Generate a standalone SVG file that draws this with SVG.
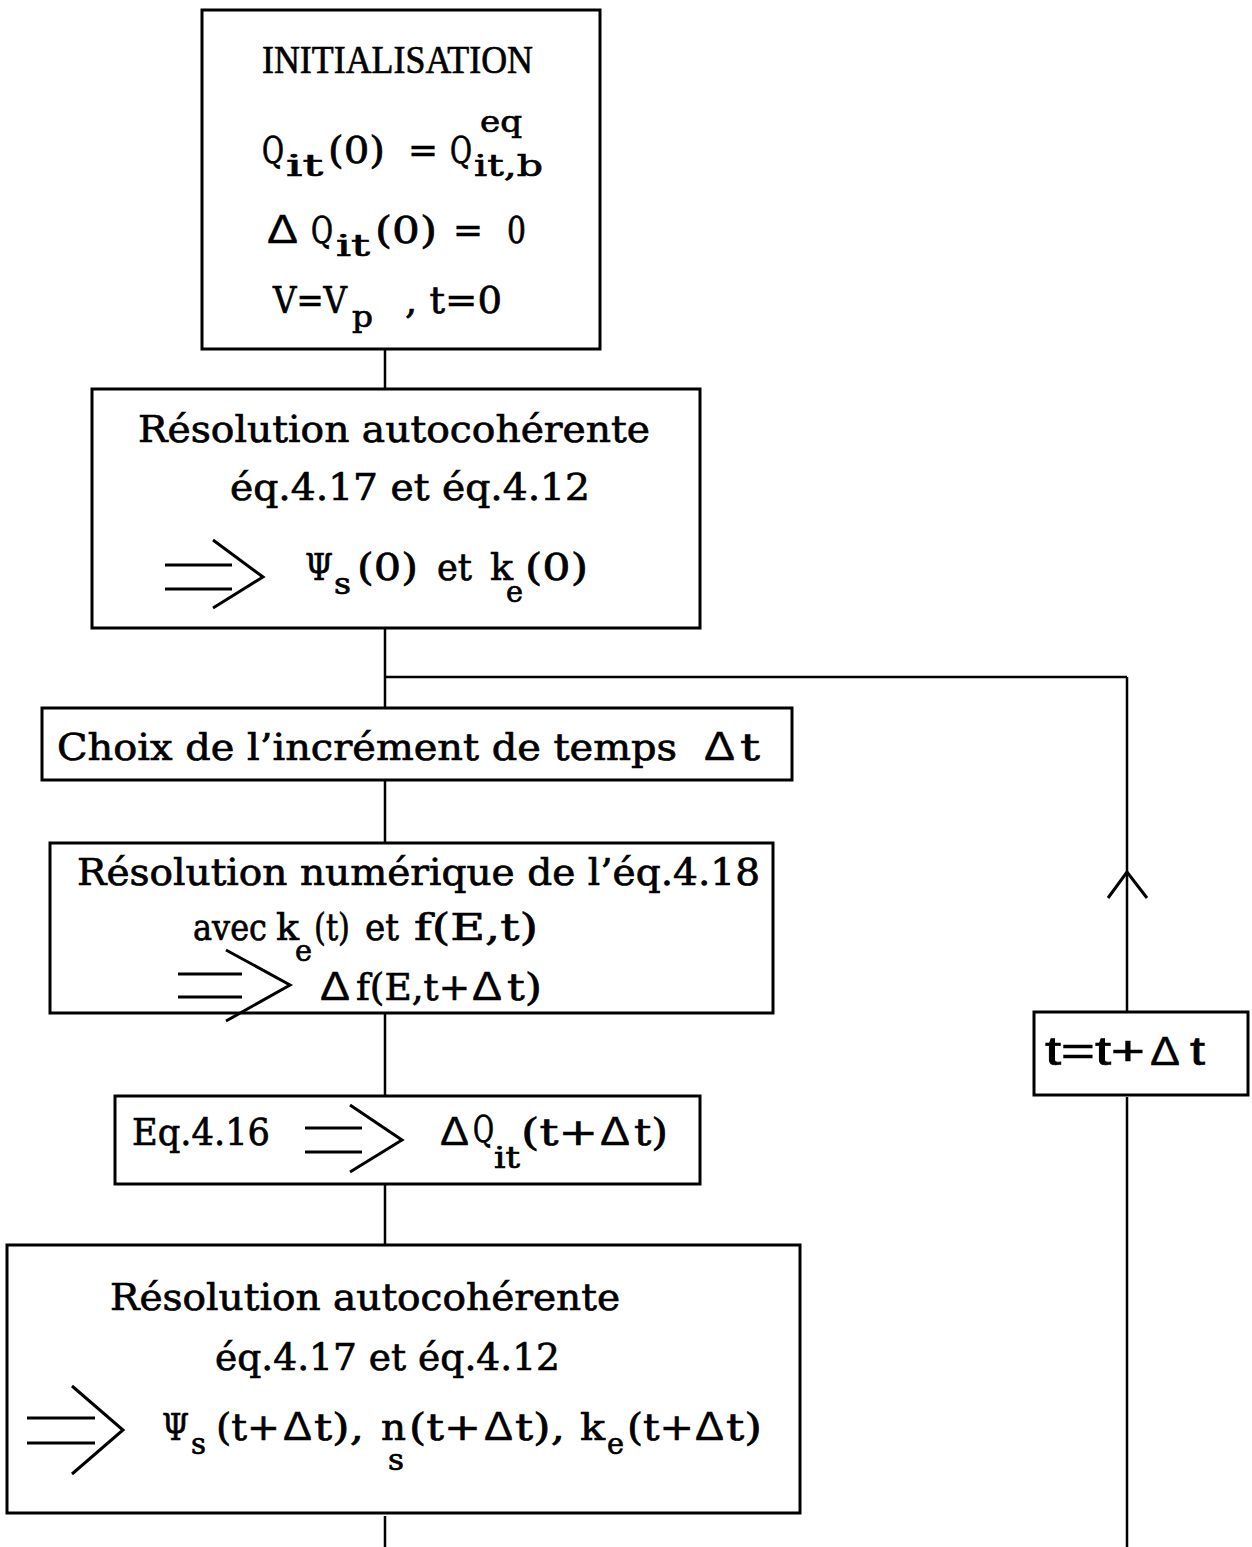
<svg xmlns="http://www.w3.org/2000/svg" width="1252" height="1547" viewBox="0 0 1252 1547">
<style>
.box{fill:#fff;stroke:#000;stroke-width:3}
.ln{fill:none;stroke:#000;stroke-width:2.5;stroke-linecap:butt}
.ar{fill:none;stroke:#000;stroke-width:3;stroke-linejoin:miter}
text{fill:#000;stroke:#000;stroke-width:0.7}
.t{font-family:"DejaVu Serif","Liberation Serif",serif;font-size:38px}
.sub{font-family:"DejaVu Serif","Liberation Serif",serif;font-size:30px}
.d{font-family:"Liberation Sans","DejaVu Sans",sans-serif;font-size:40px;stroke-width:0.3}
.ttl{font-family:"Liberation Serif","DejaVu Serif",serif;font-size:40px}
.ss{font-family:"Liberation Sans","DejaVu Sans",sans-serif;font-size:40px}
</style>
<rect width="1252" height="1547" fill="#fff"/>
<g id="connectors">
<path class="ln" d="M385 349V389M385 628V708M385 677H1127M1127 677V1012M385 780V843M385 1013V1096M385 1184V1245M385 1516V1547M1127 1097V1547"/>
<path class="ar" d="M1108 898L1127 872L1147 898"/>
</g>
<g id="init">
<rect class="box" x="202" y="10" width="398" height="339"/>
<text class="ttl" x="262" y="73" textLength="271" lengthAdjust="spacingAndGlyphs">INITIALISATION</text>
<text class="t" x="262" y="163" textLength="22" lengthAdjust="spacingAndGlyphs">Q</text>
<text class="sub" x="286" y="176" textLength="37" lengthAdjust="spacingAndGlyphs">it</text>
<text class="t" x="328" y="163" textLength="57" lengthAdjust="spacingAndGlyphs">(0)</text>
<text class="t" x="408" y="163" textLength="30" lengthAdjust="spacingAndGlyphs">=</text>
<text class="t" x="450" y="163" textLength="22" lengthAdjust="spacingAndGlyphs">Q</text>
<text class="sub" x="474" y="176" textLength="69" lengthAdjust="spacingAndGlyphs">it,b</text>
<text class="sub" x="480" y="132" textLength="42" lengthAdjust="spacingAndGlyphs">eq</text>
<text class="d" x="267" y="243" textLength="31" lengthAdjust="spacingAndGlyphs">Δ</text>
<text class="t" x="311" y="243" textLength="22" lengthAdjust="spacingAndGlyphs">Q</text>
<text class="sub" x="336" y="256" textLength="34" lengthAdjust="spacingAndGlyphs">it</text>
<text class="t" x="375" y="243" textLength="62" lengthAdjust="spacingAndGlyphs">(0)</text>
<text class="t" x="453" y="243" textLength="30" lengthAdjust="spacingAndGlyphs">=</text>
<text class="t" x="507" y="243" textLength="19" lengthAdjust="spacingAndGlyphs">0</text>
<text class="t" x="273" y="313" textLength="74" lengthAdjust="spacingAndGlyphs">V=V</text>
<text class="sub" x="352" y="327" textLength="21" lengthAdjust="spacingAndGlyphs">p</text>
<text class="t" x="405" y="313" textLength="97" lengthAdjust="spacingAndGlyphs">, t=0</text>
</g>
<g id="resol0">
<rect class="box" x="92" y="389" width="608" height="239"/>
<text class="t" x="138" y="442" textLength="512" lengthAdjust="spacingAndGlyphs">Résolution autocohérente</text>
<text class="t" x="230" y="500" textLength="360" lengthAdjust="spacingAndGlyphs">éq.4.17 et éq.4.12</text>
<path class="ar" d="M165 565H232M165 589H232M213 540L263 577L213 608"/>
<text class="t" x="305" y="580" textLength="28" lengthAdjust="spacingAndGlyphs">Ψ</text>
<text class="sub" x="334" y="594" textLength="17" lengthAdjust="spacingAndGlyphs">s</text>
<text class="t" x="357" y="580" textLength="61" lengthAdjust="spacingAndGlyphs">(0)</text>
<text class="t" x="437" y="580" textLength="35" lengthAdjust="spacingAndGlyphs">et</text>
<text class="t" x="490" y="580" textLength="23" lengthAdjust="spacingAndGlyphs">k</text>
<text class="sub" x="506" y="602" textLength="17" lengthAdjust="spacingAndGlyphs">e</text>
<text class="t" x="525" y="580" textLength="63" lengthAdjust="spacingAndGlyphs">(0)</text>
</g>
<g id="choix">
<rect class="box" x="42" y="708" width="750" height="72"/>
<text class="t" x="57" y="760" textLength="620" lengthAdjust="spacingAndGlyphs">Choix de l’incrément de temps</text>
<text class="d" x="704" y="760" textLength="31" lengthAdjust="spacingAndGlyphs">Δ</text>
<text class="t" x="740" y="760" textLength="20" lengthAdjust="spacingAndGlyphs">t</text>
</g>
<g id="numerique">
<rect class="box" x="50" y="843" width="723" height="170"/>
<text class="t" x="77" y="885" textLength="683" lengthAdjust="spacingAndGlyphs">Résolution numérique de l’éq.4.18</text>
<text class="t" x="193" y="940" textLength="74" lengthAdjust="spacingAndGlyphs">avec</text>
<text class="t" x="276" y="940" textLength="23" lengthAdjust="spacingAndGlyphs">k</text>
<text class="sub" x="295" y="961" textLength="17" lengthAdjust="spacingAndGlyphs">e</text>
<text class="t" x="314" y="940" textLength="36" lengthAdjust="spacingAndGlyphs">(t)</text>
<text class="t" x="365" y="940" textLength="34" lengthAdjust="spacingAndGlyphs">et</text>
<text class="t" x="414" y="940" textLength="124" lengthAdjust="spacingAndGlyphs">f(E,t)</text>
<path class="ar" d="M178 974H242M178 997H242M226 950L290 985L226 1021"/>
<text class="d" x="320" y="1000" textLength="30" lengthAdjust="spacingAndGlyphs">Δ</text>
<text class="t" x="356" y="1000" textLength="114" lengthAdjust="spacingAndGlyphs">f(E,t+</text>
<text class="d" x="472" y="1000" textLength="30" lengthAdjust="spacingAndGlyphs">Δ</text>
<text class="t" x="507" y="1000" textLength="35" lengthAdjust="spacingAndGlyphs">t)</text>
</g>
<g id="eq416">
<rect class="box" x="115" y="1096" width="585" height="88"/>
<text class="t" x="132" y="1145" textLength="138" lengthAdjust="spacingAndGlyphs">Eq.4.16</text>
<path class="ar" d="M305 1128H362M305 1152H362M350 1105L402 1140L350 1172"/>
<text class="d" x="440" y="1145" textLength="29" lengthAdjust="spacingAndGlyphs">Δ</text>
<text class="t" x="473" y="1142" textLength="21" lengthAdjust="spacingAndGlyphs">Q</text>
<text class="sub" x="494" y="1168" textLength="26" lengthAdjust="spacingAndGlyphs">it</text>
<text class="t" x="521" y="1145" textLength="77" lengthAdjust="spacingAndGlyphs">(t+</text>
<text class="d" x="600" y="1145" textLength="30" lengthAdjust="spacingAndGlyphs">Δ</text>
<text class="t" x="634" y="1145" textLength="34" lengthAdjust="spacingAndGlyphs">t)</text>
</g>
<g id="resolt">
<rect class="box" x="7" y="1245" width="793" height="268"/>
<text class="t" x="110" y="1310" textLength="510" lengthAdjust="spacingAndGlyphs">Résolution autocohérente</text>
<text class="t" x="215" y="1370" textLength="345" lengthAdjust="spacingAndGlyphs">éq.4.17 et éq.4.12</text>
<path class="ar" d="M27 1418H95M27 1443H95M72 1386L123 1430L72 1474"/>
<text class="t" x="162" y="1440" textLength="27" lengthAdjust="spacingAndGlyphs">Ψ</text>
<text class="sub" x="191" y="1454" textLength="15" lengthAdjust="spacingAndGlyphs">s</text>
<text class="t" x="216" y="1440" textLength="64" lengthAdjust="spacingAndGlyphs">(t+</text>
<text class="d" x="283" y="1440" textLength="29" lengthAdjust="spacingAndGlyphs">Δ</text>
<text class="t" x="314" y="1440" textLength="50" lengthAdjust="spacingAndGlyphs">t),</text>
<text class="t" x="381" y="1440" textLength="25" lengthAdjust="spacingAndGlyphs">n</text>
<text class="sub" x="388" y="1470" textLength="16" lengthAdjust="spacingAndGlyphs">s</text>
<text class="t" x="409" y="1440" textLength="72" lengthAdjust="spacingAndGlyphs">(t+</text>
<text class="d" x="484" y="1440" textLength="29" lengthAdjust="spacingAndGlyphs">Δ</text>
<text class="t" x="515" y="1440" textLength="50" lengthAdjust="spacingAndGlyphs">t),</text>
<text class="t" x="580" y="1440" textLength="25" lengthAdjust="spacingAndGlyphs">k</text>
<text class="sub" x="607" y="1454" textLength="17" lengthAdjust="spacingAndGlyphs">e</text>
<text class="t" x="627" y="1440" textLength="67" lengthAdjust="spacingAndGlyphs">(t+</text>
<text class="d" x="695" y="1440" textLength="29" lengthAdjust="spacingAndGlyphs">Δ</text>
<text class="t" x="726" y="1440" textLength="36" lengthAdjust="spacingAndGlyphs">t)</text>
</g>
<g id="incr">
<rect class="box" x="1034" y="1012" width="214" height="83"/>
<text class="ss" x="1045" y="1065" textLength="100" lengthAdjust="spacingAndGlyphs">t=t+</text>
<text class="d" x="1150" y="1065" textLength="30" lengthAdjust="spacingAndGlyphs">Δ</text>
<text class="ss" x="1190" y="1065" textLength="15" lengthAdjust="spacingAndGlyphs">t</text>
</g>
</svg>
